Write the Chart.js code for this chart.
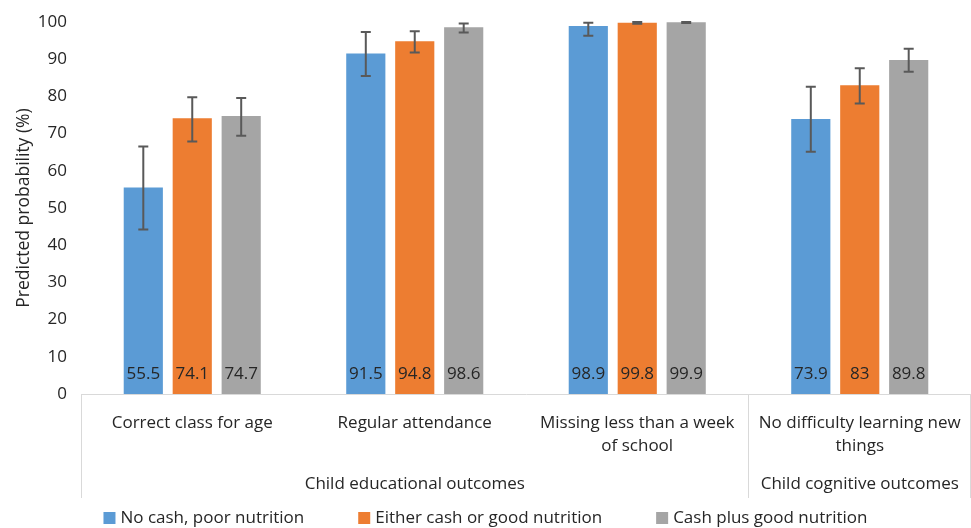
<!DOCTYPE html>
<html>
<head>
<meta charset="utf-8">
<script src="https://cdn.jsdelivr.net/npm/chart.js@4"></script>
<style>
  html, body { margin: 0; padding: 0; background: #fff; }
  #wrap { width: 971px; height: 528px; }
</style>
</head>
<body>
<div id="wrap"><canvas id="chart"></canvas></div>
<script>
const categories = [
    ['Correct class for age'],
    ['Regular attendance'],
    ['Missing less than a week', 'of school'],
    ['No difficulty learning new', 'things']
];
const groups = [
    { label: 'Child educational outcomes', from: 0, to: 2 },
    { label: 'Child cognitive outcomes', from: 3, to: 3 }
];
const seriesNames = ['No cash, poor nutrition', 'Either cash or good nutrition', 'Cash plus good nutrition'];
const noCash = [55.5, 91.5, 98.9, 73.9];
const either = [74.1, 94.8, 99.8, 83];
const cashPlus = [74.7, 98.6, 99.9, 89.8];
// confidence interval ends
const noCashLow = [44.2, 85.5, 96.3, 65.1];
const noCashHigh = [66.5, 97.3, 99.8, 82.6];
const eitherLow = [67.9, 91.8, 99.5, 78.1];
const eitherHigh = [79.8, 97.5, 100, 87.6];
const cashPlusLow = [69.4, 97.2, 99.7, 86.6];
const cashPlusHigh = [79.6, 99.6, 100, 92.8];
const yTicks = [0, 10, 20, 30, 40, 50, 60, 70, 80, 90, 100];

const colors = ['#5B9BD5', '#ED7D31', '#A5A5A5'];
const FONT = '"Open Sans", sans-serif';
const TEXT = '#262626';

const errorBars = [[noCashLow, noCashHigh], [eitherLow, eitherHigh], [cashPlusLow, cashPlusHigh]];

const extras = {
    id: 'extras',
    afterDatasetsDraw(chart) {
        const ctx = chart.ctx;
        const y = chart.scales.y;
        const x = chart.scales.x;
        const area = chart.chartArea;
        ctx.save();
        chart.data.datasets.forEach((ds, i) => {
            const meta = chart.getDatasetMeta(i);
            meta.data.forEach((bar, j) => {
                // error bar
                const lo = y.getPixelForValue(errorBars[i][0][j]);
                const hi = y.getPixelForValue(errorBars[i][1][j]);
                ctx.strokeStyle = '#595959';
                ctx.lineWidth = 2;
                ctx.beginPath();
                ctx.moveTo(bar.x, lo); ctx.lineTo(bar.x, hi);
                ctx.moveTo(bar.x - 5, lo); ctx.lineTo(bar.x + 5, lo);
                ctx.moveTo(bar.x - 5, hi); ctx.lineTo(bar.x + 5, hi);
                ctx.stroke();
                // value label
                ctx.fillStyle = TEXT;
                ctx.font = '17px ' + FONT;
                ctx.textAlign = 'center';
                ctx.textBaseline = 'middle';
                ctx.fillText(String(ds.data[j]), bar.x, area.bottom - 20);
            });
        });

        // multi-level axis lines and group labels
        const top = area.bottom;
        const bottom = area.bottom + 104;
        const half = (x.getPixelForValue(1) - x.getPixelForValue(0)) / 2;
        ctx.strokeStyle = '#d9d9d9';
        ctx.lineWidth = 1;
        ctx.beginPath();
        ctx.moveTo(area.left + 0.5, top); ctx.lineTo(area.left + 0.5, bottom);
        groups.forEach(g => {
            const right = Math.round(x.getPixelForValue(g.to) + half) - 0.5;
            ctx.moveTo(right, top); ctx.lineTo(right, bottom);
        });
        ctx.stroke();
        ctx.fillStyle = TEXT;
        ctx.font = '17px ' + FONT;
        ctx.textAlign = 'center';
        ctx.textBaseline = 'middle';
        groups.forEach(g => {
            const cx = (x.getPixelForValue(g.from) + x.getPixelForValue(g.to)) / 2;
            ctx.fillText(g.label, cx, area.bottom + 90);
        });

        // legend
        ctx.font = '17px ' + FONT;
        ctx.textAlign = 'left';
        const gap = 54, box = 12, boxGap = 5;
        const widths = seriesNames.map(n => box + boxGap + ctx.measureText(n).width);
        const total = widths.reduce((a, b) => a + b, 0) + gap * (widths.length - 1);
        let lx = chart.width / 2 - total / 2;
        const ly = 518;
        seriesNames.forEach((n, i) => {
            ctx.fillStyle = colors[i];
            ctx.fillRect(lx, ly - box / 2, box, box);
            ctx.fillStyle = TEXT;
            ctx.fillText(n, lx + box + boxGap, ly);
            lx += widths[i] + gap;
        });
        ctx.restore();
    }
};

new Chart(document.getElementById('chart'), {
    type: 'bar',
    data: {
        labels: categories,
        datasets: [
            { label: seriesNames[0], data: noCash, backgroundColor: colors[0] },
            { label: seriesNames[1], data: either, backgroundColor: colors[1] },
            { label: seriesNames[2], data: cashPlus, backgroundColor: colors[2] }
        ]
    },
    options: {
        responsive: true,
        maintainAspectRatio: false,
        animation: false,
        layout: { padding: { top: 22, right: 0, left: 0, bottom: 30 } },
        datasets: { bar: { categoryPercentage: 0.66, barPercentage: 0.8 } },
        plugins: {
            legend: { display: false },
            tooltip: { enabled: false }
        },
        scales: {
            x: {
                grid: { display: false },
                border: { color: '#d9d9d9' },
                ticks: {
                    color: TEXT, padding: 10,
                    font: { family: FONT, size: 17, lineHeight: 1.35 },
                    maxRotation: 0, autoSkip: false
                },
                afterFit(scale) { scale.height = 104; }
            },
            y: {
                min: 0, max: 100,
                afterBuildTicks(scale) { scale.ticks = yTicks.map(v => ({ value: v })); },
                grid: { display: false },
                border: { display: false },
                ticks: { color: TEXT, padding: 6, font: { family: FONT, size: 17 } },
                title: {
                    display: true,
                    text: 'Predicted probability (%)',
                    color: TEXT,
                    font: { family: FONT, size: 17.5 },
                    padding: { top: 14, bottom: 0 }
                },
                afterFit(scale) { scale.width = 81; }
            }
        }
    },
    plugins: [extras]
});
</script>
</body>
</html>
